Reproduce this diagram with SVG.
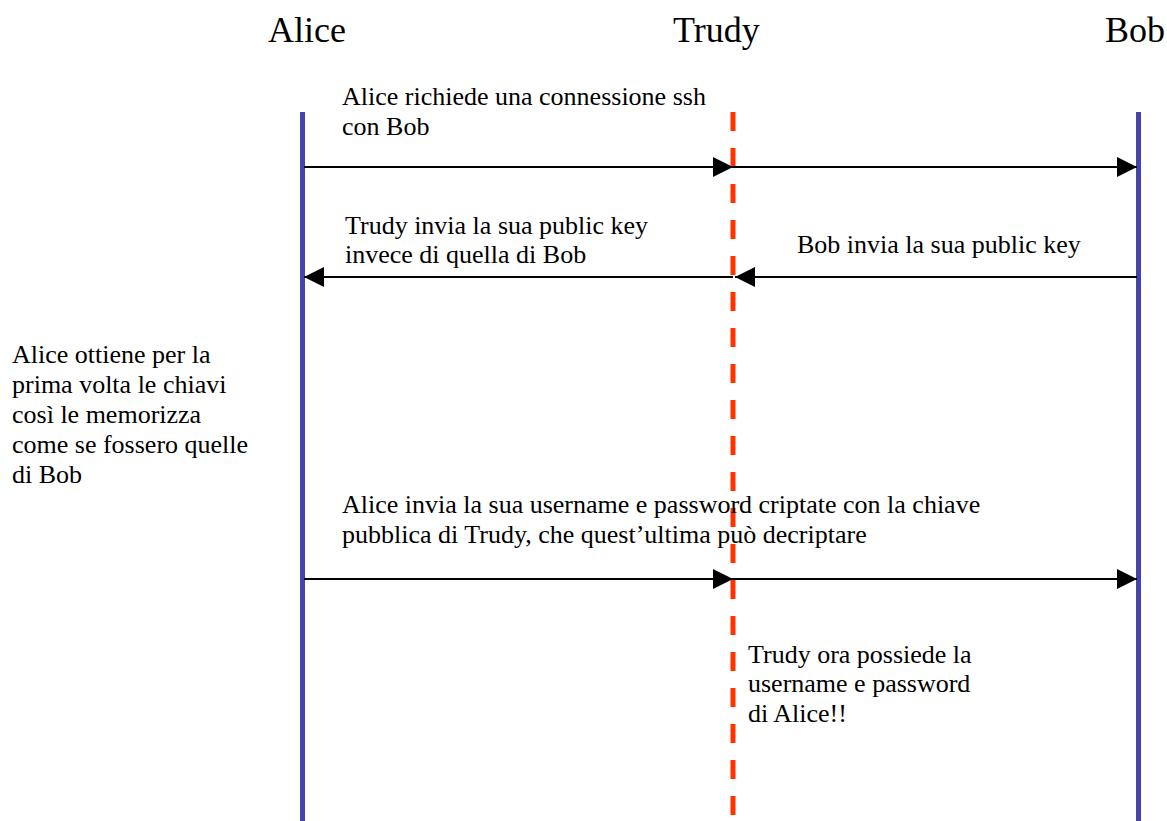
<svg xmlns="http://www.w3.org/2000/svg" width="1167" height="821" viewBox="0 0 1167 821">
  <style>
    text { font-family: "Liberation Serif", "Times New Roman", serif; fill: #000; }
    .title { font-size: 36px; }
    .label { font-size: 26px; }
    .life { stroke: #4444AA; stroke-width: 5; fill: none; }
    .spy { stroke: #FF3300; stroke-width: 5; stroke-dasharray: 19 17; fill: none; }
    .msg { stroke: #000; stroke-width: 2; fill: none; marker-end: url(#head); }
  </style>
  <defs>
    <marker id="head" markerUnits="userSpaceOnUse" markerWidth="20" markerHeight="20" refX="20" refY="10" orient="auto" viewBox="0 0 20 20">
      <path d="M0,0 L20,10 L0,20 Z" fill="#000"/>
    </marker>
  </defs>
  <rect width="1167" height="821" fill="#fff"/>

  <g id="alice">
    <text class="title" x="268" y="42">Alice</text>
    <line class="life" x1="302.5" y1="112" x2="302.5" y2="821"/>
  </g>
  <g id="trudy">
    <text class="title" x="673" y="42">Trudy</text>
    <line class="spy" x1="733" y1="112" x2="733" y2="821"/>
  </g>
  <g id="bob">
    <text class="title" x="1105" y="42">Bob</text>
    <line class="life" x1="1138.5" y1="112" x2="1138.5" y2="821"/>
  </g>

  <g id="connectors">
    <!-- connection request -->
    <line class="msg" x1="304" y1="167" x2="733" y2="167"/>
    <line class="msg" x1="733" y1="167" x2="1137" y2="167"/>
    <!-- public key reply -->
    <line class="msg" x1="1137" y1="277" x2="735" y2="277"/>
    <line class="msg" x1="733" y1="277" x2="304" y2="277"/>
    <!-- credentials -->
    <line class="msg" x1="304" y1="579" x2="733" y2="579"/>
    <line class="msg" x1="733" y1="579" x2="1137" y2="579"/>
  </g>

  <g id="notes">
    <text class="label" x="342" y="105">Alice richiede una connessione ssh</text>
    <text class="label" x="342" y="135">con Bob</text>

    <text class="label" x="345" y="234">Trudy invia la sua public key</text>
    <text class="label" x="345" y="263">invece di quella di Bob</text>
    <text class="label" x="797" y="253">Bob invia la sua public key</text>

    <text class="label" x="12" y="363">Alice ottiene per la</text>
    <text class="label" x="12" y="393">prima volta le chiavi</text>
    <text class="label" x="12" y="423">così le memorizza</text>
    <text class="label" x="12" y="453">come se fossero quelle</text>
    <text class="label" x="12" y="483">di Bob</text>

    <text class="label" x="342" y="513">Alice invia la sua username e password criptate con la chiave</text>
    <text class="label" x="342" y="543">pubblica di Trudy, che quest’ultima può decriptare</text>

    <text class="label" x="748" y="663">Trudy ora possiede la</text>
    <text class="label" x="748" y="692">username e password</text>
    <text class="label" x="748" y="722">di Alice!!</text>
  </g>
</svg>
